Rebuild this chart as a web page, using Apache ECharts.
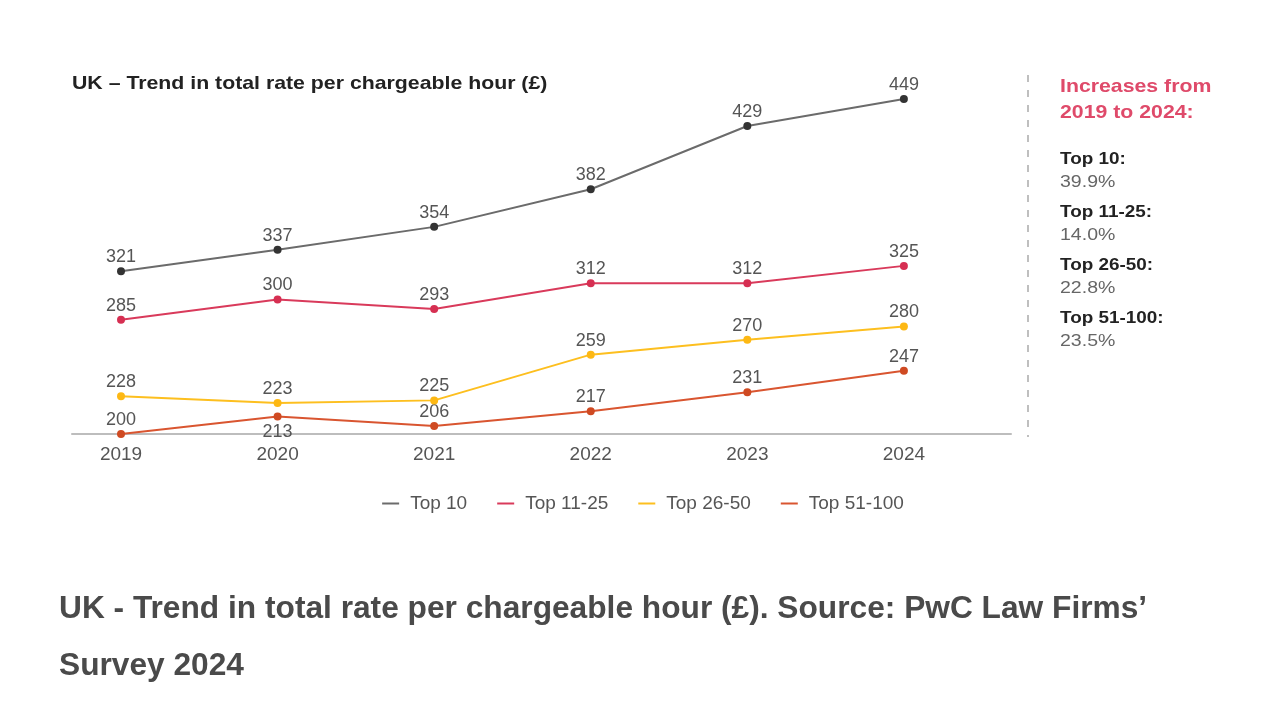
<!DOCTYPE html>
<html>
<head>
<meta charset="utf-8">
<script src="https://cdn.jsdelivr.net/npm/echarts@6/dist/echarts.min.js"></script>
<style>
html,body{margin:0;padding:0;background:#fff;}
#c{width:1286px;height:722px;}
</style>
</head>
<body>
<div id="c"></div>
<script>
var years = [2019, 2020, 2021, 2022, 2023, 2024];
var seriesNames = ['Top 10', 'Top 11-25', 'Top 26-50', 'Top 51-100'];
var top10 = [321, 337, 354, 382, 429, 449];
var top11_25 = [285, 300, 293, 312, 312, 325];
var top26_50 = [228, 223, 225, 259, 270, 280];
var top51_100 = [200, 213, 206, 217, 231, 247];
var increases = ['39.9%', '14.0%', '22.8%', '23.5%'];

var lineColors = ['#6b6b6b', '#d93a5b', '#fdbf1f', '#d95530'];
var dotColors = ['#333333', '#d62f52', '#fdb814', '#cf4a22'];
var allValues = [top10, top11_25, top26_50, top51_100];
var FF = '"Liberation Sans", Arial, sans-serif';

var chart = echarts.init(document.getElementById('c'));

var series = allValues.map(function (vals, i) {
  return {
    name: seriesNames[i],
    type: 'line',
    data: vals.map(function (v, j) {
      var item = { value: [years[j], v] };
      if (i === 3 && j === 1) {
        item.label = { position: 'bottom', distance: 3 };
      }
      return item;
    }),
    symbol: 'circle',
    symbolSize: 8,
    lineStyle: { color: lineColors[i], width: 2 },
    itemStyle: { color: dotColors[i] },
    label: {
      show: true,
      position: 'top',
      distance: 1,
      fontSize: 18,
      color: '#555',
      fontFamily: FF,
      formatter: function (p) { return p.value[1]; }
    },
    emphasis: { disabled: true },
    z: 10 - i
  };
});

var graphics = [
  {
    type: 'text', left: 72, top: 74, scaleX: 1.12,
    style: { text: 'UK – Trend in total rate per chargeable hour (£)', font: 'bold 19px ' + FF, fill: '#222' }
  },
  {
    type: 'line', shape: { x1: 1028, y1: 75, x2: 1028, y2: 437 },
    style: { stroke: '#aaa', lineWidth: 1.5, lineDash: [7, 8] }
  },
  {
    type: 'text', left: 1060, top: 74, scaleX: 1.12,
    style: { text: 'Increases from\n2019 to 2024:', font: 'bold 19px ' + FF, fill: '#df4a6a', lineHeight: 26 }
  }
];
seriesNames.forEach(function (n, i) {
  graphics.push({
    type: 'text', left: 1060, top: 152 + i * 53, scaleX: 1.18,
    style: { text: n + ':', font: 'bold 16px ' + FF, fill: '#222' }
  });
  graphics.push({
    type: 'text', left: 1060, top: 175 + i * 53, scaleX: 1.22,
    style: { text: increases[i], font: '16px ' + FF, fill: '#666' }
  });
});
graphics.push({
  type: 'text', left: 59, top: 593,
  style: { text: 'UK - Trend in total rate per chargeable hour (£). Source: PwC Law Firms’', font: 'bold 31.7px ' + FF, fill: '#4a4a4a' }
});
graphics.push({
  type: 'text', left: 59, top: 650,
  style: { text: 'Survey 2024', font: 'bold 31.7px ' + FF, fill: '#4a4a4a' }
});

chart.setOption({
  animation: false,
  backgroundColor: '#fff',
  grid: { left: 72, right: 275, top: 84.3, bottom: 288 },
  xAxis: {
    type: 'value',
    min: 2018.687,
    max: 2024.684,
    axisLine: { show: true, lineStyle: { color: '#bdbdbd', width: 2 } },
    axisTick: { show: false },
    splitLine: { show: false },
    axisLabel: {
      customValues: years,
      fontSize: 19,
      color: '#555',
      margin: 11,
      fontFamily: FF,
      formatter: function (v) { return String(v); }
    }
  },
  yAxis: {
    type: 'value', min: 200, max: 460, show: false
  },
  legend: {
    data: seriesNames.map(function (n, i) { return { name: n, itemStyle: { color: lineColors[i] } }; }),
    top: 489,
    left: 'center',
    icon: 'rect',
    itemWidth: 17,
    itemHeight: 2,
    itemGap: 30,
    textStyle: { fontSize: 19, color: '#555', fontFamily: FF, padding: [0, 0, 0, 6] }
  },
  graphic: graphics,
  series: series
});
</script>
</body>
</html>
